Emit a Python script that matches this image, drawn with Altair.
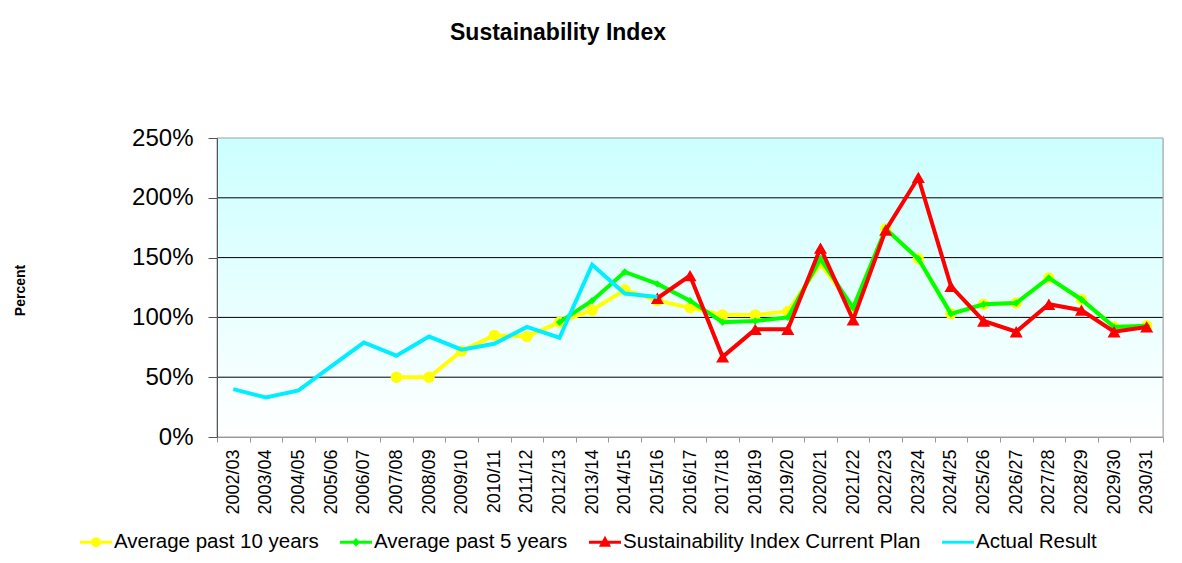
import altair as alt
import pandas as pd

categories = ["2002/03", "2003/04", "2004/05", "2005/06", "2006/07", "2007/08", "2008/09",
              "2009/10", "2010/11", "2011/12", "2012/13", "2013/14", "2014/15", "2015/16",
              "2016/17", "2017/18", "2018/19", "2019/20", "2020/21", "2021/22", "2022/23",
              "2023/24", "2024/25", "2025/26", "2026/27", "2027/28", "2028/29", "2029/30",
              "2030/31"]

avg10 = [None] * 5 + [50, 50, 72, 85, 84, 96, 106, 123, 114, 108, 102, 102, 105, 145,
                      108, 174, 149, 103, 111, 112, 133, 115, 92, 93]
avg5 = [None] * 10 + [96, 114, 138, 128, 114, 96, 97, 100, 149, 108, 174, 149, 103, 111,
                      112, 133, 115, 92, 93]
current_plan = [None] * 13 + [116, 135, 67, 90, 90, 158, 98, 173, 217, 126, 97, 88, 111,
                              106, 88, 92]
actual = [40, 33, 39, 59, 79, 68, 84, 73, 78, 92, 83, 144, 120, 117] + [None] * 15

series_names = ["Average past 10 years", "Average past 5 years",
                "Sustainability Index Current Plan", "Actual Result"]
series_values = [avg10, avg5, current_plan, actual]
colors = ["#ffff00", "#00ff00", "#ff0000", "#00eeff"]
marker_shapes = ["circle", "diamond", "triangle-up", None]
marker_sizes = [130, 55, 170, 0]
grid_values = [50, 100, 150, 200]

# legend symbols: line segment + marker
legend_paths = [
    "M-1,-0.09H1V0.09H-1Z M0.31,0 A0.31,0.31 0 1,1 -0.31,0 A0.31,0.31 0 1,1 0.31,0 Z",
    "M-1,-0.09H1V0.09H-1Z M0,-0.26 L0.26,0 L0,0.26 L-0.26,0 Z",
    "M-1,-0.09H1V0.09H-1Z M0,-0.4 L0.38,0.28 L-0.38,0.28 Z",
    "M-1,-0.09H1V0.09H-1Z",
]

rows = []
for name, vals in zip(series_names, series_values):
    for cat, v in zip(categories, vals):
        if v is not None:
            rows.append({"year": cat, "series": name, "value": v})
df = pd.DataFrame(rows)

FONT = "Liberation Sans"
W, H = 946, 299

X = alt.X("year:N", sort=categories,
          scale=alt.Scale(type="band", domain=categories, paddingInner=0, paddingOuter=0),
          axis=alt.Axis(title=None, labelAngle=270, labelFontSize=18, labelFont=FONT,
                        labelColor="black", labelPadding=7, tickSize=5, tickColor="#999999",
                        tickBand="extent", domainColor="#999999", zindex=1, grid=False))
Y = alt.Y("value:Q", scale=alt.Scale(domain=[0, 250], nice=False, zero=True),
          axis=alt.Axis(title="Percent", values=[0, 50, 100, 150, 200, 250],
                        labelExpr="datum.value + '%'", labelFontSize=24, labelFont=FONT,
                        labelColor="black", labelPadding=15, tickSize=9, tickColor="#555555",
                        domainColor="#555555", grid=False, zindex=1,
                        titleFont=FONT, titleFontSize=14, titleFontWeight="bold",
                        titleAngle=270, titleX=-197, titleY=152, titleAlign="center",
                        titleBaseline="middle", titleColor="black"))

one = alt.Data(values=[{"a": 1}])

background = alt.Chart(one).mark_rect(
    color=alt.LinearGradient(gradient="linear",
                             stops=[alt.GradientStop(color="#ccffff", offset=0),
                                    alt.GradientStop(color="#ffffff", offset=1)],
                             x1=0, x2=0, y1=0, y2=1)
).encode(x=alt.value(0), x2=alt.value("width"), y=alt.value(0), y2=alt.value("height"))

frame = alt.Chart(one).mark_rect(fillOpacity=0, stroke="#a0a0a0", strokeWidth=1).encode(
    x=alt.value(0), x2=alt.value("width"), y=alt.value(0), y2=alt.value("height"))

grid = alt.Chart(pd.DataFrame({"value": grid_values})).mark_rule(
    color="black", strokeWidth=1).encode(y=Y)

layers = [background, grid, frame]
base = alt.Chart(df)
for name, color, shp, sz in zip(series_names, colors, marker_shapes, marker_sizes):
    d = base.transform_filter(alt.datum.series == name)
    layers.append(d.mark_line(color=color, strokeWidth=4).encode(x=X, y=Y))
    if shp is not None:
        layers.append(d.mark_point(color=color, filled=True, shape=shp, size=sz,
                                   opacity=1).encode(x=X, y=Y))

legend_props = dict(title=None, orient="none", legendX=-137, legendY=388,
                    direction="horizontal", symbolSize=1024, labelFontSize=20.5,
                    labelFont=FONT, labelColor="black", columnPadding=21, labelOffset=2,
                    labelLimit=0, padding=0, symbolStrokeWidth=0, symbolOpacity=1)
legend_layer = alt.Chart(pd.DataFrame({"series": series_names})).mark_point(
    filled=True, opacity=0).encode(
    color=alt.Color("series:N", sort=series_names,
                    scale=alt.Scale(domain=series_names, range=colors),
                    legend=alt.Legend(**legend_props)),
    shape=alt.Shape("series:N", sort=series_names,
                    scale=alt.Scale(domain=series_names, range=legend_paths),
                    legend=alt.Legend(**legend_props)),
)
layers.append(legend_layer)

chart = alt.layer(*layers).properties(
    width=W, height=H,
    title=alt.Title("Sustainability Index", fontSize=23, font=FONT, fontWeight="bold",
                    color="black", anchor="middle", frame="group", dx=-132, offset=81),
    autosize=alt.AutoSizeParams(type="none"),
    padding={"left": 209, "top": 130, "right": 11, "bottom": 118},
).configure_view(stroke=None).configure(background="white")

chart.save("out.html", embed_options={"renderer": "svg", "actions": False})
